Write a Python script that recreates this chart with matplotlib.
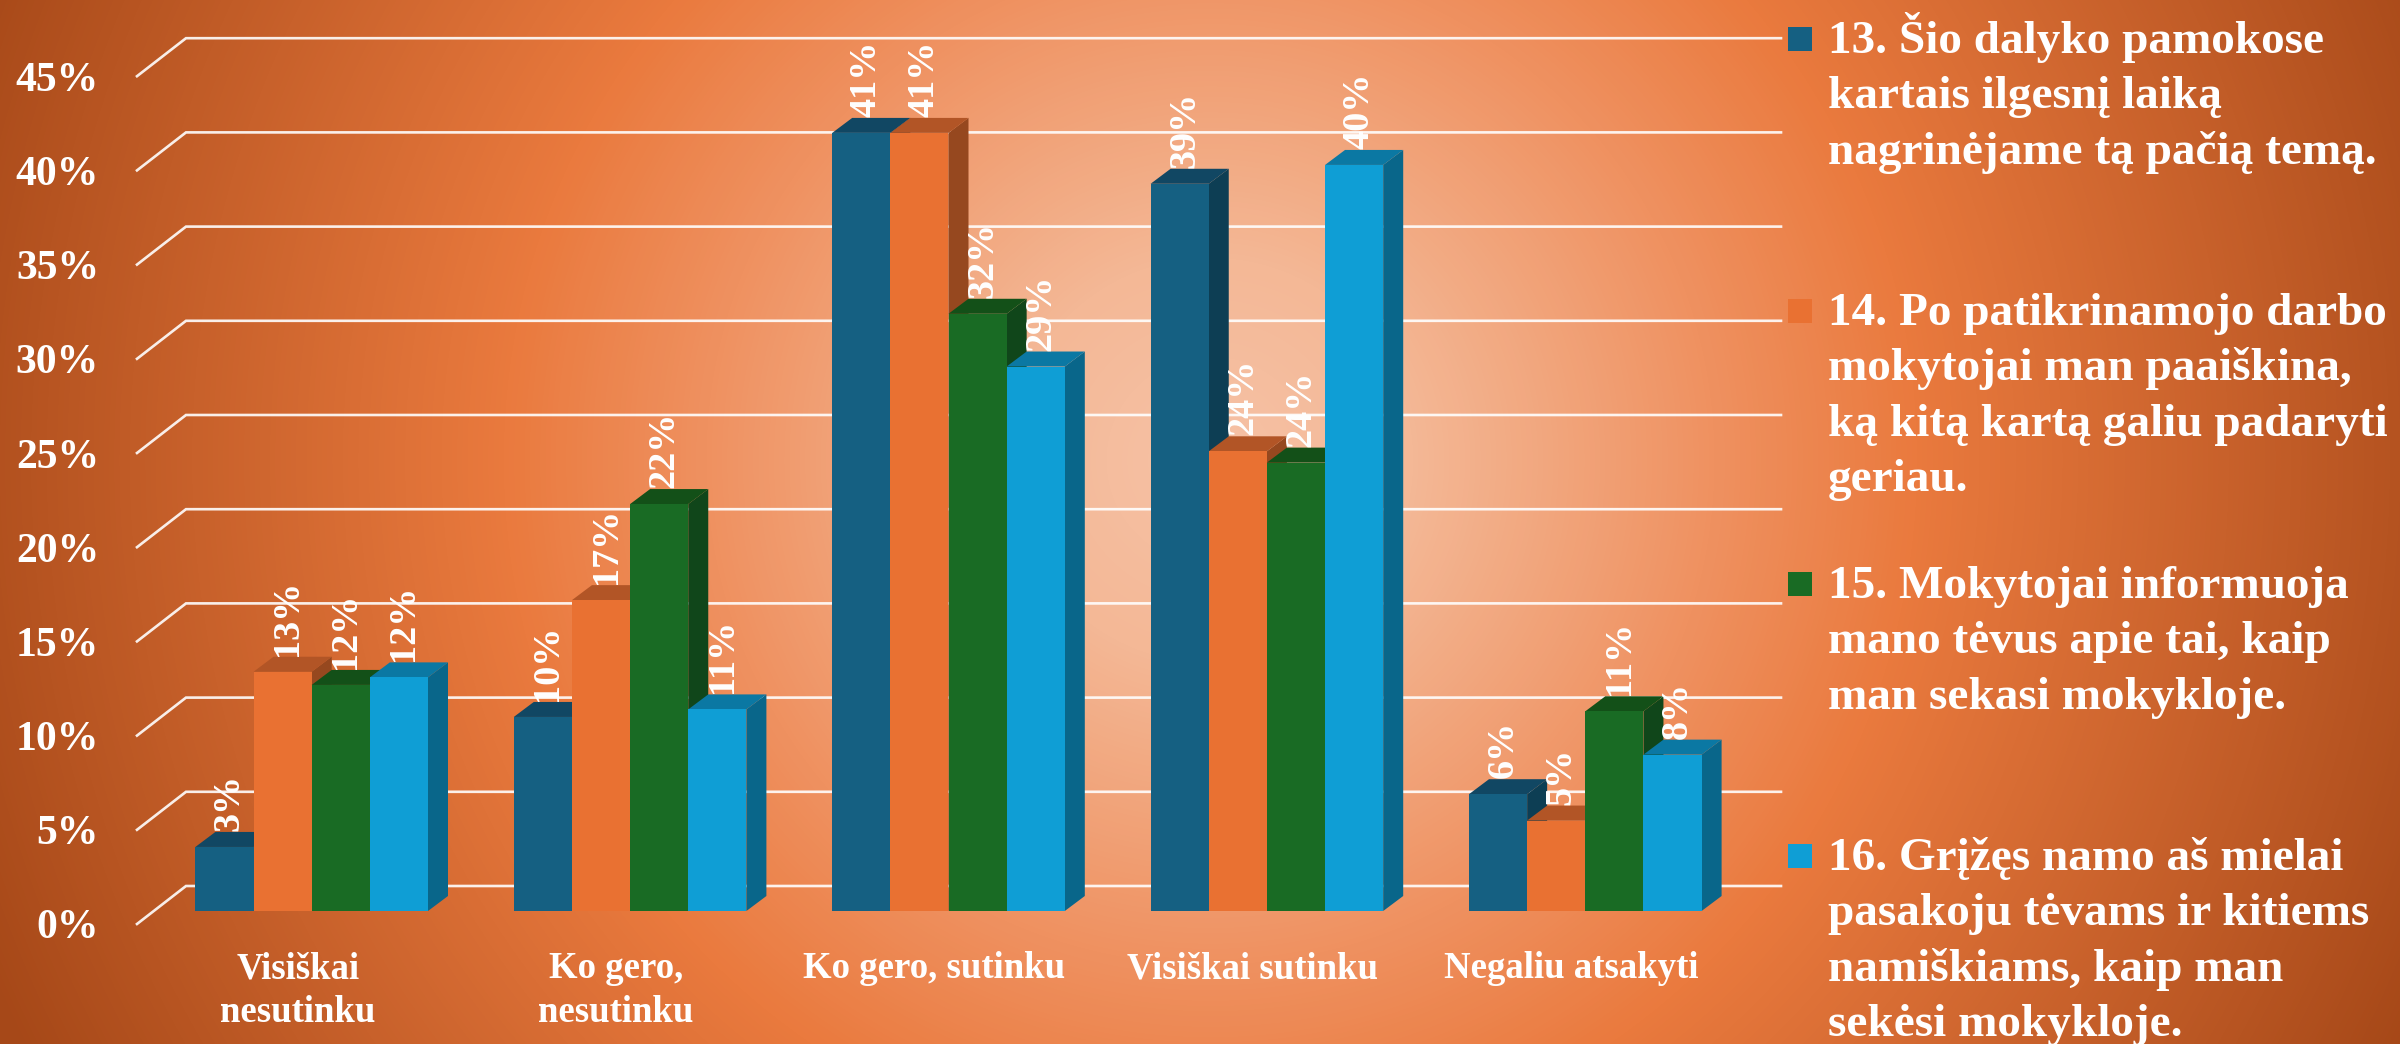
"""3D style grouped bars with a radial orange background."""

import numpy as np
import matplotlib.pyplot as plt
from matplotlib.colors import LinearSegmentedColormap

plt.rcParams['font.family'] = ['Liberation Serif', 'DejaVu Serif']
plt.rcParams['font.weight'] = 'bold'

W, H = 2400, 1044

categories = [["Visiškai", "nesutinku"], ["Ko gero,", "nesutinku"],
              ["Ko gero, sutinku"], ["Visiškai sutinku"], ["Negaliu atsakyti"]]
q13 = [3.4, 10.3, 41.3, 38.6, 6.2]
q14 = [12.7, 16.5, 41.3, 24.4, 4.8]
q15 = [12.0, 21.6, 31.7, 23.8, 10.6]
q16 = [12.4, 10.7, 28.9, 39.6, 8.3]
series = [q13, q14, q15, q16]
labels13 = ["3%", "10%", "41%", "39%", "6%"]
labels14 = ["13%", "17%", "41%", "24%", "5%"]
labels15 = ["12%", "22%", "32%", "24%", "11%"]
labels16 = ["12%", "11%", "29%", "40%", "8%"]
bar_labels = [labels13, labels14, labels15, labels16]
yticks = [0, 5, 10, 15, 20, 25, 30, 35, 40, 45]

legend_lines = [
    ["13. Šio dalyko pamokose", "kartais ilgesnį laiką", "nagrinėjame tą pačią temą."],
    ["14. Po patikrinamojo darbo", "mokytojai man paaiškina,",
     "ką kitą kartą galiu padaryti", "geriau."],
    ["15. Mokytojai informuoja", "mano tėvus apie tai, kaip", "man sekasi mokykloje."],
    ["16. Grįžęs namo aš mielai", "pasakoju tėvams ir kitiems",
     "namiškiams, kaip man", "sekėsi mokykloje."],
]
legend_base = [53, 325, 598, 870]

front = ['#156082', '#e97132', '#196b24', '#0f9ed5']
side = ['#0d3e54', '#96481f', '#10461a', '#09668a']
top = ['#114763', '#b25526', '#135018', '#0b78a3']

# scale of the front plane, in pixels
px_x = 318.4
px_y = 18.84
x0_px = 311.7
y0_px = 911
bar_w = 58.15 / px_x
dx = 20 / px_x
dy = 15 / px_y

fig = plt.figure(figsize=(W / 100, H / 100), dpi=100)

# background
bg = fig.add_axes([0, 0, 1, 1], zorder=0)
yy, xx = np.mgrid[0:H, 0:W]
dist = np.hypot(xx - 1210, yy - 460)
cmap = LinearSegmentedColormap.from_list(
    'bg', [(0, '#f6c2a6'), (0.15, '#f4b896'), (0.38, '#ef9160'),
           (0.53, '#ea7a3e'), (1, '#a64818')])
bg.imshow(dist / 1330, cmap=cmap, vmin=0, vmax=1, aspect='auto',
          extent=[0, W, H, 0], interpolation='bilinear')
bg.set_xlim(0, W)
bg.set_ylim(H, 0)
bg.axis('off')

for i, lines in enumerate(legend_lines):
    bg.fill_between([1788, 1812], legend_base[i] - 26, legend_base[i] - 2,
                    color=front[i], lw=0)
    for j, line in enumerate(lines):
        bg.text(1828, legend_base[i] + j * 55.4, line, color='white',
                fontsize=34, ha='left', va='baseline')

# chart
ax = fig.add_axes([0, 0, 1, 1], zorder=1)
ax.patch.set_alpha(0)
ax.set_xlim(-x0_px / px_x, (W - x0_px) / px_x)
ax.set_ylim(-(H - y0_px) / px_y, y0_px / px_y)
ax.axis('off')

wall_left = (137 - x0_px) / px_x
wall_back = (186 - x0_px) / px_x
wall_right = (1781 - x0_px) / px_x
for t in yticks:
    y_front = t - 13 / px_y
    y_back = t + 25 / px_y
    ax.plot([wall_left, wall_back, wall_right], [y_front, y_back, y_back],
            color='white', lw=1.9, alpha=0.9, zorder=1, solid_joinstyle='miter')
    ax.text(wall_left - 38 / px_x, y_front, f"{t}%", color='white', fontsize=30,
            ha='right', va='center_baseline', zorder=20)

for s, vals in enumerate(series):
    xs = np.arange(len(vals)) + (s - 1.5) * bar_w
    for x, v, lab in zip(xs, vals, bar_labels[s]):
        l, r = x - bar_w / 2, x + bar_w / 2
        ax.fill([r, r + dx, r + dx, r], [0, dy, v + dy, v], color=side[s], lw=0, zorder=2 + s)
        ax.fill([l, l + dx, r + dx, r], [v, v + dy, v + dy, v], color=top[s], lw=0, zorder=2 + s)
        ax.text(x + 5 / px_x, v + 16 / px_y, lab, color='white', fontsize=27.5,
                rotation=90, ha='center', va='bottom', zorder=20)
    ax.bar(xs, vals, bar_w, color=front[s], lw=0, zorder=2.5 + s)

for g, lines in enumerate(categories):
    for j, line in enumerate(lines):
        ax.text(g - 14 / px_x, -(978.5 + j * 43 - y0_px) / px_y, line, color='white',
                fontsize=26.5, ha='center', va='baseline', zorder=20)

fig.savefig('out.png', dpi=100)
